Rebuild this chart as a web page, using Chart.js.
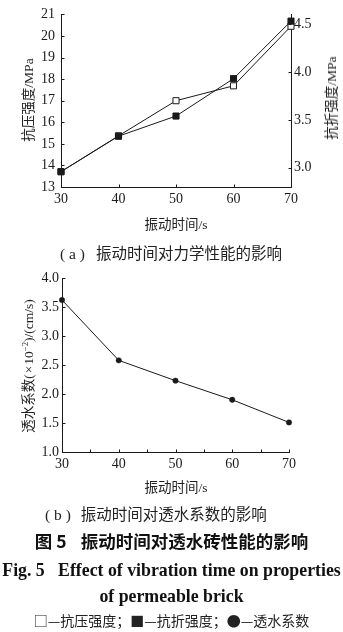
<!DOCTYPE html>
<html>
<head>
<meta charset="utf-8">
<script src="https://cdn.jsdelivr.net/npm/chart.js@4/dist/chart.umd.min.js"></script>
<style>
  html, body { margin: 0; padding: 0; background: #fff; }
  body { width: 343px; height: 632px; position: relative; overflow: hidden; }
  canvas { position: absolute; left: 0; }
  .t { position: absolute; white-space: nowrap; color: #222;
       font-family: "Liberation Serif", "Noto Sans CJK SC", serif; }
  .c { left: 0; width: 343px; text-align: center; }
  .rot { transform-origin: center center; transform: translate(-50%, -50%) rotate(-90deg); }
  .cjk { font-family: "Noto Sans CJK SC", sans-serif; }
  sup { font-size: 0.65em; line-height: 0; }
</style>
</head>
<body>
<canvas id="chartA" width="343" height="232" style="top:0"></canvas>
<canvas id="chartB" width="343" height="232" style="top:262px"></canvas>

<!-- axis titles and captions -->
<div class="t rot" style="left:27px;top:100px;font-size:13.5px;">抗压强度/MPa</div>
<div class="t rot" style="left:330px;top:98px;font-size:13.5px;">抗折强度/MPa</div>
<div class="t" style="left:176px;top:223px;transform:translate(-50%,-50%);font-size:13.5px;">振动时间/s</div>
<div class="t" style="left:60px;top:242px;font-size:15.5px;line-height:20px;">(&nbsp;a&nbsp;)<span class="cjk" style="margin-left:11px">振动时间对力学性能的影响</span></div>

<div class="t rot" style="left:27px;top:366px;font-size:13.5px;">透水系数(<span style="margin:0 1px">×</span>10<sup>−2</sup>)/(cm/s)</div>
<div class="t" style="left:176px;top:486px;transform:translate(-50%,-50%);font-size:13.5px;">振动时间/s</div>
<div class="t" style="left:45px;top:503px;font-size:15.5px;line-height:20px;">(&nbsp;b&nbsp;)<span class="cjk" style="margin-left:10px">振动时间对透水系数的影响</span></div>

<div class="t c" style="top:530px;font-size:17.5px;line-height:22px;font-weight:bold;font-family:'Noto Sans CJK SC',sans-serif;color:#111;">图 5<span style="margin-left:14px">振动时间对透水砖性能的影响</span></div>
<div class="t c" style="top:559px;font-size:17.8px;line-height:22px;font-weight:bold;color:#111;">Fig. 5&nbsp;&nbsp; Effect of vibration time on properties</div>
<div class="t c" style="top:585px;font-size:17.8px;line-height:22px;font-weight:bold;color:#111;">of permeable brick</div>
<div class="t c" style="top:611px;font-size:14px;line-height:18px;font-family:'Noto Sans CJK SC',sans-serif;">□—抗压强度；■—抗折强度；●—透水系数</div>

<script>
// Vibration time (s) and the measured properties
const vibrationTime = [30, 40, 50, 60, 70];
const compressiveStrength = [13.71, 15.37, 17.0, 17.69, 20.45];   // MPa
const flexuralStrength = [2.96, 3.33, 3.54, 3.93, 4.53];          // MPa
const permeability = [3.62, 2.58, 2.23, 1.90, 1.51];              // ×10^-2 cm/s

// Tick labels
const timeTicks = [30, 40, 50, 60, 70];
const compressiveTicks = [13, 14, 15, 16, 17, 18, 19, 20, 21];
const flexuralTicks = [3.0, 3.5, 4.0, 4.5];
const permeabilityTicks = [1.0, 1.5, 2.0, 2.5, 3.0, 3.5, 4.0];

const INK = '#1a1a1a';
const tickFont = { family: '"Liberation Serif", serif', size: 14 };

const pairs = (xs, ys) => xs.map((x, i) => ({ x, y: ys[i] }));
const fixTicks = list => scale => { scale.ticks = list.map(v => ({ value: v })); };

// Short tick marks drawn on the inner side of each axis
const innerTicks = {
  id: 'innerTicks',
  afterDraw(chart, args, opts) {
    const ctx = chart.ctx;
    ctx.save();
    ctx.strokeStyle = INK;
    ctx.lineWidth = 1;
    ctx.beginPath();
    for (const id of Object.keys(opts.scales || {})) {
      const cfg = opts.scales[id];
      const s = chart.scales[id];
      const len = cfg.len || 3;
      const vals = s.ticks.map(t => t.value);
      const all = vals.slice();
      if (cfg.minor) {
        for (let i = 0; i < vals.length - 1; i++) all.push((vals[i] + vals[i + 1]) / 2);
      }
      for (const v of all) {
        const p = Math.round(s.getPixelForValue(v)) + 0.5;
        if (s.position === 'bottom') {
          const y = Math.round(s.top) + 0.5;
          ctx.moveTo(p, y); ctx.lineTo(p, y - len);
        } else if (s.position === 'left') {
          const x = Math.round(s.right) + 0.5;
          ctx.moveTo(x, p); ctx.lineTo(x + len, p);
        } else if (s.position === 'right') {
          const x = Math.round(s.left) + 0.5;
          ctx.moveTo(x, p); ctx.lineTo(x - len, p);
        }
      }
    }
    ctx.stroke();
    ctx.restore();
  }
};

const axisBase = {
  grid: { display: true, drawOnChartArea: false, drawTicks: false },
  border: { display: true, color: INK, width: 1 },
};

// (a) compressive and flexural strength
new Chart(document.getElementById('chartA'), {
  type: 'line',
  data: {
    datasets: [
      {
        label: '抗压强度',
        data: pairs(vibrationTime, compressiveStrength),
        yAxisID: 'y',
        borderColor: INK, borderWidth: 1,
        pointStyle: 'rect', pointRadius: 4.3,
        pointBackgroundColor: '#fff', pointBorderColor: INK, pointBorderWidth: 1,
        clip: false, order: 2
      },
      {
        label: '抗折强度',
        data: pairs(vibrationTime, flexuralStrength),
        yAxisID: 'y2',
        borderColor: INK, borderWidth: 1,
        pointStyle: 'rect', pointRadius: 4.3,
        pointBackgroundColor: INK, pointBorderColor: INK, pointBorderWidth: 1,
        clip: false, order: 1
      }
    ]
  },
  options: {
    responsive: false, animation: false, devicePixelRatio: 1,
    layout: { padding: { top: 14, left: 0, right: 0, bottom: 0 } },
    plugins: {
      legend: { display: false }, tooltip: { enabled: false },
      innerTicks: { scales: { x: { len: 3 }, y: { len: 3 }, y2: { len: 3 } } }
    },
    scales: {
      x: {
        ...axisBase, type: 'linear', position: 'bottom', min: 30, max: 70,
        afterBuildTicks: fixTicks(timeTicks),
        afterFit: s => { s.height = 45; },
        ticks: { font: tickFont, color: INK, padding: 4, maxRotation: 0 }
      },
      y: {
        ...axisBase, type: 'linear', position: 'left', min: 13, max: 21,
        afterBuildTicks: fixTicks(compressiveTicks),
        afterFit: s => { s.width = 61; },
        ticks: { font: tickFont, color: INK, padding: 6, callback: v => String(v) }
      },
      y2: {
        ...axisBase, type: 'linear', position: 'right', min: 2.8, max: 4.6,
        afterBuildTicks: fixTicks(flexuralTicks),
        afterFit: s => { s.width = 52; },
        ticks: { font: tickFont, color: INK, padding: 3, callback: v => v.toFixed(1) }
      }
    }
  },
  plugins: [innerTicks]
});

// (b) permeability coefficient
new Chart(document.getElementById('chartB'), {
  type: 'line',
  data: {
    datasets: [{
      label: '透水系数',
      data: pairs(vibrationTime, permeability),
      borderColor: INK, borderWidth: 1,
      pointStyle: 'circle', pointRadius: 2.7,
      pointBackgroundColor: INK, pointBorderColor: INK, pointBorderWidth: 0.5,
      clip: false
    }]
  },
  options: {
    responsive: false, animation: false, devicePixelRatio: 1,
    layout: { padding: { top: 16, left: 0, right: 54, bottom: 0 } },
    plugins: {
      legend: { display: false }, tooltip: { enabled: false },
      innerTicks: { scales: { x: { len: 3, minor: true }, y: { len: 3 } } }
    },
    scales: {
      x: {
        ...axisBase, type: 'linear', position: 'bottom', min: 30, max: 70,
        afterBuildTicks: fixTicks(timeTicks),
        afterFit: s => { s.height = 42; },
        ticks: { font: tickFont, color: INK, padding: 4, maxRotation: 0 }
      },
      y: {
        ...axisBase, type: 'linear', position: 'left', min: 1.0, max: 4.0,
        afterBuildTicks: fixTicks(permeabilityTicks),
        afterFit: s => { s.width = 62; },
        ticks: { font: tickFont, color: INK, padding: 3, callback: v => v.toFixed(1) }
      }
    }
  },
  plugins: [innerTicks]
});
</script>
</body>
</html>
